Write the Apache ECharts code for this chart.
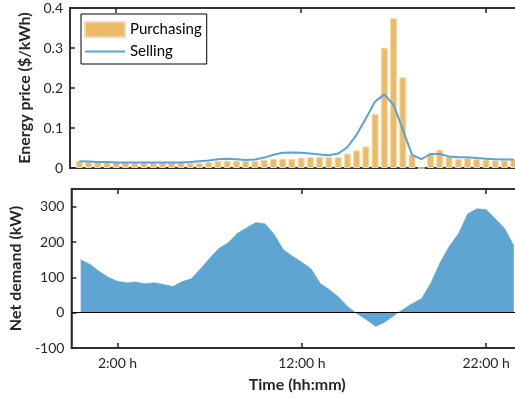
<!DOCTYPE html>
<html>
<head>
<meta charset="utf-8">
<script src="https://cdn.jsdelivr.net/npm/echarts@6/dist/echarts.min.js"></script>
<style>
html, body { margin: 0; padding: 0; overflow: hidden; background: #fff; }
#chart { width: 530px; height: 399px; }
</style>
</head>
<body>
<div id="chart"></div>
<script>
// half-hourly time steps (hours)
const hours = [];
for (let i = 0; i < 48; i++) hours.push(i / 2);

const purchasing = [
  0.018, 0.015, 0.015, 0.015, 0.015, 0.015, 0.015, 0.015, 0.015, 0.015, 0.015, 0.015,
  0.013, 0.013, 0.015, 0.018, 0.018, 0.018, 0.018, 0.018, 0.021, 0.023, 0.023, 0.023,
  0.026, 0.027, 0.028, 0.028, 0.027, 0.036, 0.044, 0.054, 0.135, 0.301, 0.375, 0.227,
  0.033, 0, 0.037, 0.046, 0.029, 0.022, 0.025, 0.022, 0.021, 0.019, 0.019, 0.022
];
const selling = [
  0.017, 0.016, 0.015, 0.015, 0.014, 0.014, 0.014, 0.014, 0.014, 0.014, 0.014, 0.014,
  0.015, 0.017, 0.019, 0.022, 0.023, 0.022, 0.020, 0.021, 0.026, 0.033, 0.038, 0.039,
  0.038, 0.036, 0.034, 0.032, 0.036, 0.052, 0.083, 0.124, 0.166, 0.184, 0.158, 0.096,
  0.033, 0.022, 0.035, 0.035, 0.029, 0.027, 0.027, 0.025, 0.023, 0.022, 0.021, 0.021
];
const netDemand = [
  150, 137, 117, 100, 89, 85, 87, 82, 85, 80, 74, 88,
  96, 124, 154, 182, 198, 225, 240, 255, 252, 222, 178, 160,
  143, 124, 83, 65, 44, 17, -3, -20, -39, -27, -8, 10,
  26, 40, 84, 142, 188, 224, 280, 294, 292, 266, 239, 190
];
const timeTicks = [2, 12, 22];
const timeLabels = { 2: '2:00 h', 12: '12:00 h', 22: '22:00 h' };

const pair = (arr) => hours.map((h, i) => [h, arr[i]]);

const font = 'Lato, "Open Sans", sans-serif';
const ink = '#262626';
const axisLine = { show: true, onZero: false, lineStyle: { color: ink, width: 1.5 } };
const tickIn = { show: true, inside: true, length: 5, customValues: timeTicks, lineStyle: { color: ink, width: 1.5 } };

function xAx(gridIndex, position, withLabels) {
  return {
    type: 'value', gridIndex: gridIndex, position: position,
    min: -0.5, max: 24,
    axisLine: axisLine,
    axisTick: tickIn,
    splitLine: { show: false },
    axisLabel: withLabels ? {
      show: true, customValues: timeTicks, margin: 8,
      color: ink, fontSize: 14, fontFamily: font,
      formatter: v => timeLabels[v] || ''
    } : { show: false }
  };
}

const chart = echarts.init(document.getElementById('chart'));
chart.setOption({
  animation: false,
  textStyle: { fontFamily: font },
  grid: [
    { left: 70, top: 8, width: 453, height: 160, show: true, borderColor: ink, borderWidth: 1.5, backgroundColor: 'transparent' },
    { left: 70, top: 189, width: 453, height: 159, show: true, borderColor: ink, borderWidth: 1.5, backgroundColor: 'transparent' }
  ],
  legend: {
    orient: 'vertical',
    left: 81, top: 14,
    padding: [7, 5, 5, 3],
    itemWidth: 40, itemHeight: 15, itemGap: 6,
    borderColor: '#000', borderWidth: 1, backgroundColor: '#fff',
    textStyle: { color: '#000', fontSize: 15, fontFamily: font },
    data: [
      { name: 'Purchasing', icon: 'rect' },
      { name: 'Selling', icon: 'path://M0,0 L40,0 L40,2 L0,2 Z' }
    ]
  },
  xAxis: [
    xAx(0, 'bottom', false),
    xAx(0, 'top', false),
    Object.assign(xAx(1, 'bottom', true), {
      name: 'Time (hh:mm)', nameLocation: 'middle', nameGap: 29,
      nameTextStyle: { color: ink, fontSize: 16, fontWeight: 'bold', fontFamily: font }
    }),
    xAx(1, 'top', false)
  ],
  yAxis: [
    {
      type: 'value', gridIndex: 0, min: 0, max: 0.4, interval: 0.1,
      name: 'Energy price ($/kWh)', nameLocation: 'middle', nameGap: 33,
      nameTextStyle: { color: ink, fontSize: 16, fontWeight: 'bold', fontFamily: font },
      axisLine: axisLine,
      axisTick: { show: true, inside: true, length: 5, lineStyle: { color: ink, width: 1.5 } },
      splitLine: { show: false },
      axisLabel: { color: ink, fontSize: 14, margin: 7, fontFamily: font, formatter: v => v === 0 ? '0' : v.toFixed(1) }
    },
    {
      type: 'value', gridIndex: 1, min: -100, max: 350, interval: 100,
      name: 'Net demand (kW)', nameLocation: 'middle', nameGap: 43,
      nameTextStyle: { color: ink, fontSize: 16, fontWeight: 'bold', fontFamily: font },
      axisLine: axisLine,
      axisTick: { show: true, inside: true, length: 5, lineStyle: { color: ink, width: 1.5 } },
      splitLine: { show: false },
      axisLabel: { color: ink, fontSize: 14, margin: 7, fontFamily: font, showMaxLabel: false }
    }
  ],
  series: [
    {
      name: 'Purchasing', type: 'bar', xAxisIndex: 0, yAxisIndex: 0,
      data: pair(purchasing), barWidth: 7,
      itemStyle: { color: '#EDBA68', borderColor: '#F6DBAA', borderWidth: 1 }
    },
    {
      name: 'Selling', type: 'line', xAxisIndex: 0, yAxisIndex: 0,
      data: pair(selling), symbol: 'none', smooth: false,
      lineStyle: { color: '#5BA3D6', width: 2 },
      itemStyle: { color: '#5BA3D6' }
    },
    {
      name: 'Net demand', type: 'line', xAxisIndex: 2, yAxisIndex: 1,
      data: pair(netDemand), symbol: 'none',
      lineStyle: { color: '#5FA5D1', width: 0.5 },
      areaStyle: { color: '#5FA5D1', opacity: 1 },
      markLine: {
        silent: true, symbol: 'none', label: { show: false },
        lineStyle: { color: '#000', width: 1, type: 'solid' },
        data: [{ yAxis: 0 }]
      }
    }
  ]
});
</script>
</body>
</html>
